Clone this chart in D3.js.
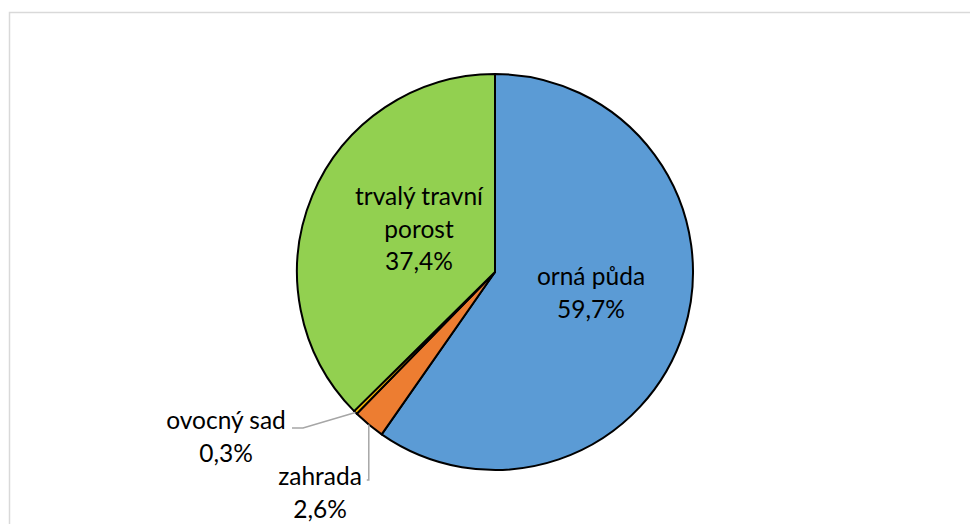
<!DOCTYPE html>
<html>
<head>
<meta charset="utf-8">
<script src="https://cdn.jsdelivr.net/npm/d3@7"></script>
<style>
  html, body { margin: 0; padding: 0; background: #fff; }
  svg text { font-family: Lato, "Open Sans", sans-serif; fill: #000; }
</style>
</head>
<body>
<svg id="chart" width="970" height="524"></svg>
<script>
// land use categories and shares (%)
var categories = ['orná půda', 'zahrada', 'ovocný sad', 'trvalý travní porost'];
var shares = [59.7, 2.6, 0.3, 37.4];
var colors = ['#5B9BD5', '#ED7D31', '#FFC000', '#92D050'];
// label lines as shown on the chart
var labelLines = [['orná půda', '59,7%'], ['zahrada', '2,6%'], ['ovocný sad', '0,3%'], ['trvalý travní', 'porost', '37,4%']];

var svg = d3.select('#chart');
var cx = 495, cy = 272, radius = 198;
var fontSize = 24.5, lineH = 32.5;

// chart frame
svg.append('rect')
  .attr('x', 9.5).attr('y', 12.5)
  .attr('width', 1000).attr('height', 600)
  .attr('fill', 'none').attr('stroke', '#d9d9d9').attr('stroke-width', 1.5);

var data = categories.map(function(c, i) { return { name: c, value: shares[i], idx: i }; });

var pie = d3.pie().sort(null).value(function(d) { return d.value; });
var arc = d3.arc().innerRadius(0).outerRadius(radius);
var arcs = pie(data);

var g = svg.append('g').attr('transform', 'translate(' + cx + ',' + cy + ')');

g.selectAll('path.slice')
  .data(arcs)
  .enter().append('path')
  .attr('class', 'slice')
  .attr('d', arc)
  .attr('fill', function(d) { return colors[d.data.idx]; })
  .attr('stroke', '#000')
  .attr('stroke-width', 2)
  .attr('stroke-linejoin', 'round');

function edgePoint(d) {
  var a = (d.startAngle + d.endAngle) / 2;
  return [radius * Math.sin(a), -radius * Math.cos(a)];
}

// label placement (relative to chart centre); inside labels for big slices
var labelPos = [
  { x: 96, y: 13 },
  { x: -175, y: 213 },
  { x: -269, y: 157 },
  { x: -76, y: -67 }
];

// leader lines for the small slices
var leaders = {
  1: function(p) { return [p, [p[0], 208], [p[0] - 2, 208]]; },
  2: function(p) { return [p, [-192, 156], [-203, 156]]; }
};

var line = d3.line();
arcs.forEach(function(d) {
  var i = d.data.idx;
  if (leaders[i]) {
    g.append('path')
      .attr('d', line(leaders[i](edgePoint(d))))
      .attr('fill', 'none')
      .attr('stroke', '#a6a6a6')
      .attr('stroke-width', 1.5);
  }
  var lines = labelLines[i];
  var t = g.append('text')
    .attr('text-anchor', 'middle')
    .attr('font-size', fontSize);
  lines.forEach(function(s, k) {
    t.append('tspan')
      .attr('x', labelPos[i].x)
      .attr('y', labelPos[i].y + k * lineH)
      .text(s);
  });
});
</script>
</body>
</html>
